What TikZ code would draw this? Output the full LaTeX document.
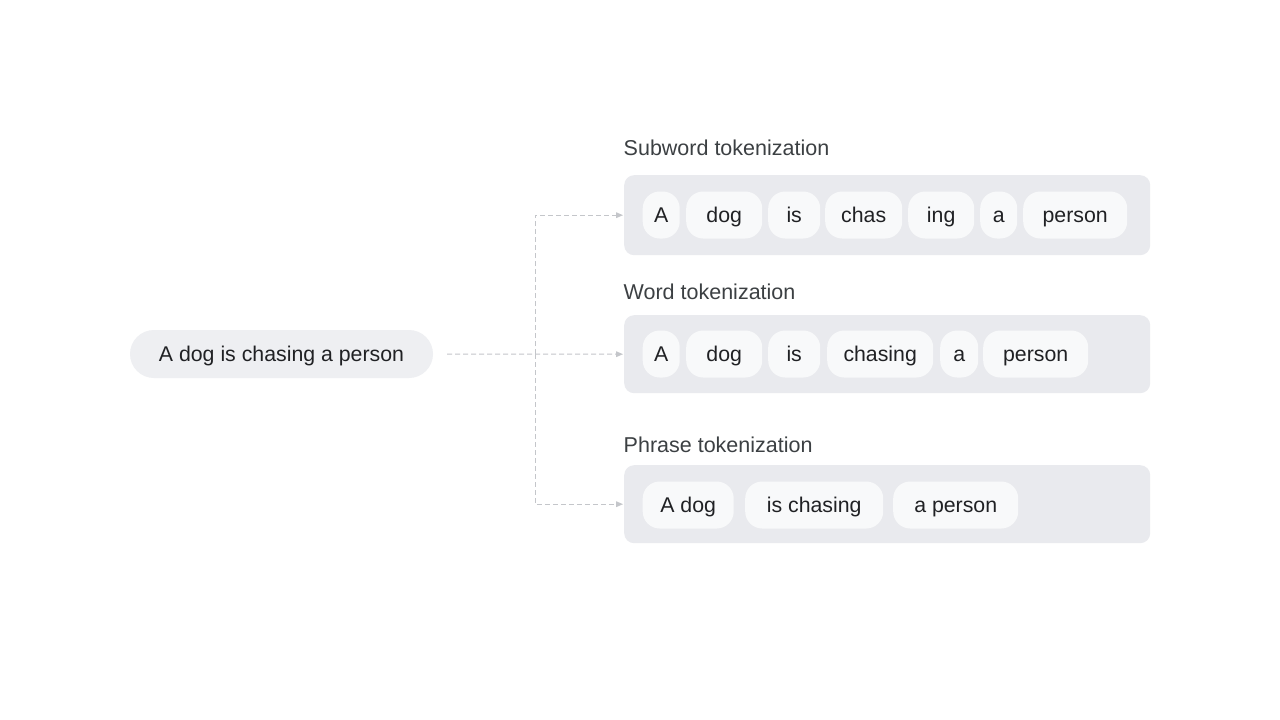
\documentclass[tikz,border=0pt]{standalone}
\usepackage{fontspec}
\setmainfont{Liberation Sans}
\usetikzlibrary{arrows.meta,positioning}
\definecolor{boxfill}{HTML}{E9EAEE}
\definecolor{pillfill}{HTML}{F8F9FA}
\definecolor{inputfill}{HTML}{EEEFF2}
\definecolor{linegray}{HTML}{C4C6CA}
\definecolor{labelcol}{HTML}{3C4043}
\definecolor{tokcol}{HTML}{202124}
\tikzset{
  rowbox/.style={fill=boxfill, rounded corners=10pt, minimum height=#1, anchor=north west, minimum width=526pt, inner sep=0pt},
  tok/.style={fill=pillfill, rounded corners=17pt, anchor=west, inner sep=0pt, minimum height=47pt,
    text height=15pt, text depth=0pt, font=\fontsize{21.3}{25}\selectfont, text=tokcol},
  rowlabel/.style={anchor=base west, inner sep=0pt, font=\fontsize{21.5}{25}\selectfont, text=labelcol},
  conn/.style={draw=linegray, line width=1pt, dash pattern=on 5pt off 3pt},
  connarrow/.style={conn, -{Triangle[length=7pt,width=6pt,fill=linegray,line width=0pt]}}
}
\begin{document}
\begin{tikzpicture}[x=1pt,y=-1pt]
\useasboundingbox[fill=white] (0,0) rectangle (1280,720);

% input
\node[fill=inputfill, rounded corners=24pt, minimum width=303pt, minimum height=48pt, inner sep=0pt,
  text height=15pt, text depth=0pt, font=\fontsize{21.3}{25}\selectfont, text=tokcol, anchor=center]
  (in) at (281.5,354) {A dog is chasing a person};

% labels
\node[rowlabel] (lsub) at (623.5,155) {Subword tokenization};
\node[rowlabel] (lword) at (623.5,299) {Word tokenization};
\node[rowlabel] (lphr) at (623.5,452) {Phrase tokenization};

% boxes
\node[rowbox=80pt] (bsub) at (624,175) {};
\node[rowbox=78pt] (bword) at (624,315) {};
\node[rowbox=78pt] (bphr) at (624,465) {};

% subword tokens
\node[tok, minimum width=37pt] (s1) at (642.5,215) {A};
\node[tok, minimum width=76pt] (s2) at (686,215) {dog};
\node[tok, minimum width=52pt] (s3) at (768,215) {is};
\node[tok, minimum width=77pt] (s4) at (825,215) {chas};
\node[tok, minimum width=66pt] (s5) at (908,215) {ing};
\node[tok, minimum width=37pt] (s6) at (980,215) {a};
\node[tok, minimum width=104pt] (s7) at (1023,215) {person};

% word tokens
\node[tok, minimum width=37pt] (w1) at (642.5,354) {A};
\node[tok, minimum width=76pt] (w2) at (686,354) {dog};
\node[tok, minimum width=52pt] (w3) at (768,354) {is};
\node[tok, minimum width=106pt] (w4) at (827,354) {chasing};
\node[tok, minimum width=38pt] (w5) at (940,354) {a};
\node[tok, minimum width=105pt] (w6) at (983,354) {person};

% phrase tokens
\node[tok, minimum width=91pt] (p1) at (642.5,505) {A dog};
\node[tok, minimum width=138pt] (p2) at (745,505) {is chasing};
\node[tok, minimum width=125pt] (p3) at (893,505) {a person};

% connectors
\coordinate (j) at (535,354);
\draw[connarrow] ([xshift=14pt]in.east) -- ([xshift=-1pt]bword.west);
\draw[connarrow] (j) |- ([xshift=-1pt]bsub.west);
\draw[connarrow] (j) |- ([xshift=-1pt]bphr.west);
\end{tikzpicture}
\end{document}
